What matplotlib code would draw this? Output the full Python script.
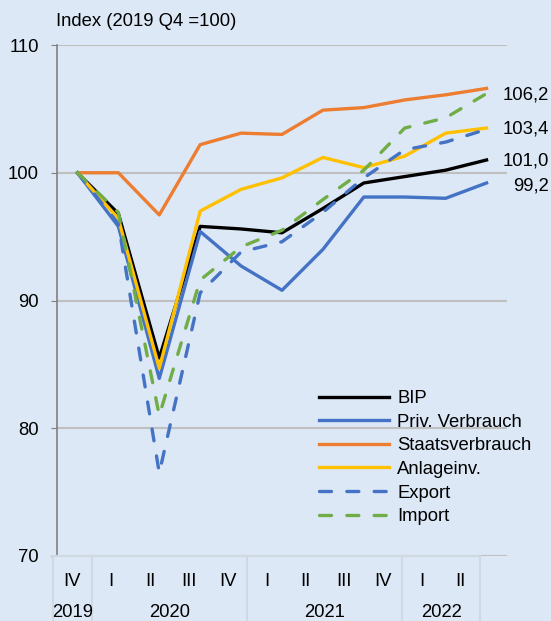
import matplotlib
matplotlib.use("Agg")
import matplotlib.pyplot as plt

plt.rcParams['font.family'] = ['Liberation Sans', 'DejaVu Sans']

# Quartale 2019 Q4 bis 2022 Q2
quarters = ["IV", "I", "II", "III", "IV", "I", "II", "III", "IV", "I", "II"]
years = ["2019", "2020", "2021", "2022"]
year_spans = [(0, 1), (1, 5), (5, 9), (9, 11)]

bip = [100, 96.8, 85.5, 95.8, 95.6, 95.3, 97.2, 99.2, 99.7, 100.2, 101.0]
priv = [100, 95.8, 83.9, 95.4, 92.7, 90.8, 94.0, 98.1, 98.1, 98.0, 99.2]
staat = [100, 100, 96.7, 102.2, 103.1, 103.0, 104.9, 105.1, 105.7, 106.1, 106.6]
anlage = [100, 96.4, 84.7, 97.0, 98.7, 99.6, 101.2, 100.4, 101.3, 103.1, 103.5]
export = [100, 96.0, 76.5, 90.6, 93.8, 94.6, 96.9, 99.6, 101.8, 102.4, 103.4]
importe = [100, 96.9, 81.0, 91.6, 94.2, 95.5, 97.9, 100.2, 103.5, 104.3, 106.2]

end_labels = ["106,2", "103,4", "101,0", "99,2"]
end_values = [106.1, 103.4, 100.9, 99.0]

fs = 13.3
bg = "#dce8f6"
fig = plt.figure(figsize=(5.51, 6.21), dpi=100, facecolor=bg)
ax = fig.add_axes([57 / 551, 65 / 621, 450 / 551, 511 / 621], facecolor=bg)

x = range(len(quarters))
lw = 2.4
ax.plot(x, bip, color="black", lw=lw, label="BIP")
ax.plot(x, priv, color="#4472c4", lw=lw, label="Priv. Verbrauch")
ax.plot(x, staat, color="#ed7d31", lw=lw, label="Staatsverbrauch")
ax.plot(x, anlage, color="#ffc000", lw=lw, label="Anlageinv.")
ax.plot(x, export, color="#4472c4", lw=lw, ls=(0, (3.6, 4.6)),
        dash_capstyle="round", label="Export")
ax.plot(x, importe, color="#70ad47", lw=lw, ls=(0, (3.6, 4.6)),
        dash_capstyle="round", label="Import")

ax.set_xlim(-0.5, 10.5)
ax.set_ylim(70, 110)
ax.set_yticks([70, 80, 90, 100, 110])
ax.set_xticks([])
ax.grid(axis="y", color="#bfbfbf", lw=1.5)
ax.set_axisbelow(True)
for s in ["top", "right", "bottom"]:
    ax.spines[s].set_visible(False)
ax.spines["left"].set_color("#808080")
ax.spines["left"].set_linewidth(1.2)
ax.tick_params(axis="y", length=4.3, color="#808080", labelsize=fs, pad=8.6)

# Endwerte rechts
for lab, v in zip(end_labels, end_values):
    ax.annotate(lab, xy=(1, v), xycoords=("axes fraction", "data"),
                xytext=(30, 0), textcoords="offset points",
                ha="right", va="center", fontsize=fs)

fig.text(56 / 551, 1 - 22 / 621, "Index (2019 Q4 =100)", fontsize=fs,
         ha="left", va="center")

ax.legend(loc="upper left", bbox_to_anchor=(319 / 551, 1 - 390 / 621),
          bbox_transform=fig.transFigure, frameon=False, fontsize=fs,
          handlelength=3.8, handletextpad=0.43, labelspacing=0.36,
          borderpad=0, borderaxespad=0)

# Kategorientabelle unten
tab = fig.add_axes([53 / 551, 0, 427 / 551, 65 / 621], facecolor="none")
tab.set_xlim(0, 11)
tab.set_ylim(0, 1)
tab.axis("off")
line_c = "#d0d8e2"
tab.plot([0, 11], [1, 1], color=line_c, lw=1.5, clip_on=False)
for xv in [0, 1, 5, 9, 11]:
    tab.plot([xv, xv], [0, 1], color=line_c, lw=1.5, clip_on=False)
for i, q in enumerate(quarters):
    tab.text(i + 0.5, 0.60, q, ha="center", va="center", fontsize=fs)
for yr, (a, b) in zip(years, year_spans):
    tab.text((a + b) / 2, 0.13, yr, ha="center", va="center", fontsize=fs)

fig.savefig("out.png", dpi=100, facecolor=bg)
